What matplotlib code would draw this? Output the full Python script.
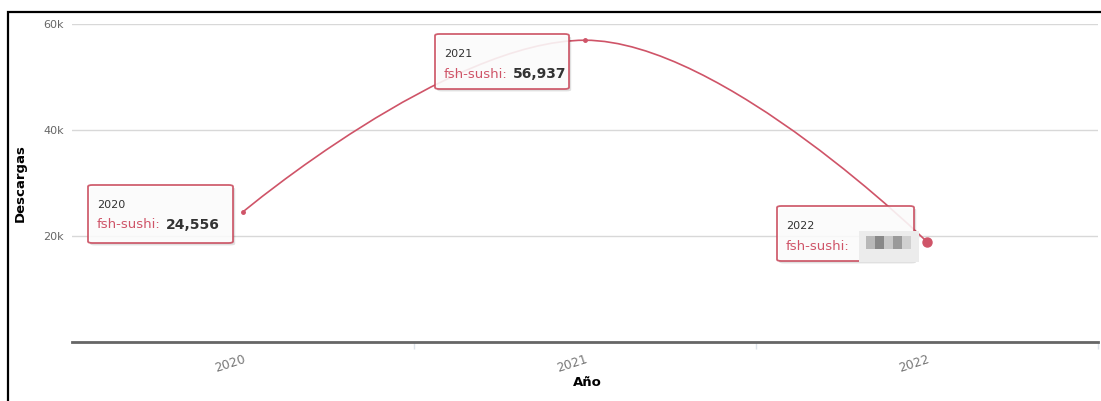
import matplotlib
matplotlib.use('Agg')
import matplotlib.pyplot as plt
from matplotlib.path import Path
from matplotlib.patches import PathPatch, FancyBboxPatch, Rectangle

# Datos
years = ['2020', '2021', '2022']
downloads = [24556, 56937, 18900]  # 2022 oculto en la imagen, valor estimado
series_name = 'fsh-sushi'
value_labels = ['24,556', '56,937', None]
y_ticks = [0, 20000, 40000, 60000]
y_tick_labels = ['', '20k', '40k', '60k']

W, H = 1101, 401
red = '#cf5468'
fig = plt.figure(figsize=(W / 100, H / 100), dpi=100)


def fx(px):
    return px / W


def fy(py):
    return 1 - py / H


ax = fig.add_axes([fx(72), fy(342), fx(1098) - fx(72), fy(24) - fy(342)])
ax.set_xlim(-0.5, 2.5)
ax.set_ylim(0, 60000)

# Curva suavizada (spline estilo Highcharts) a partir de los datos
xs = list(range(len(years)))
verts = [(xs[0], downloads[0]),
         (xs[0], downloads[0]), ((1.5 * xs[1] + xs[0]) / 2.5, downloads[1]), (xs[1], downloads[1]),
         ((1.5 * xs[1] + xs[2]) / 2.5, downloads[1]), (xs[2], downloads[2]), (xs[2], downloads[2])]
codes = [Path.MOVETO] + [Path.CURVE4] * 6
ax.add_patch(PathPatch(Path(verts, codes), fill=False, edgecolor=red, lw=1.2, zorder=3))
ax.plot(xs[:2], downloads[:2], 'o', color=red, ms=2.5, zorder=4)
ax.plot(xs[2], downloads[2], 'o', color=red, ms=6.5, zorder=4)

# Ejes
ax.set_yticks(y_ticks)
ax.set_yticklabels(y_tick_labels, color='#666666', fontsize=8)
ax.grid(axis='y', color='#d8d8d8', lw=1)
ax.set_axisbelow(True)
ax.tick_params(axis='y', length=0, pad=6)
ax.set_xticks(xs)
ax.set_xticklabels(years, rotation=18, ha='right', rotation_mode='anchor',
                   color='#777777', fontsize=9)
ax.tick_params(axis='x', length=0, pad=8)
ax.set_xticks([0.5, 1.5, 2.5], minor=True)
ax.tick_params(axis='x', which='minor', length=5, color='#dde3ea', width=1)
for s in ['top', 'right', 'left']:
    ax.spines[s].set_visible(False)
ax.spines['bottom'].set_color('#666666')
ax.spines['bottom'].set_linewidth(2)
ax.set_xlabel('Año', fontsize=9.5, fontweight='bold')
ax.set_ylabel('Descargas', fontsize=9.5, fontweight='bold')
ax.xaxis.set_label_coords(0.502, -0.108)
ax.yaxis.set_label_coords(-0.044, 0.5)

# Marco negro de la figura
fig.add_artist(Rectangle((fx(8), -0.1), 1.2, fy(12) + 0.1, transform=fig.transFigure,
                         fill=False, edgecolor='black', lw=1.6))

# Tooltips
boxes = [(88, 185, 233, 243), (435, 34, 569, 89), (777, 206, 914, 261)]
for (x0, y0, x1, y1), yr, val in zip(boxes, years, value_labels):
    fig.add_artist(FancyBboxPatch((fx(x0) + 0.002, fy(y1) - 0.006), fx(x1 - x0), fy(y0) - fy(y1),
                                  boxstyle='round,pad=0,rounding_size=0.004',
                                  transform=fig.transFigure, facecolor='#000000',
                                  edgecolor='none', alpha=0.12, zorder=5))
    fig.add_artist(FancyBboxPatch((fx(x0), fy(y1)), fx(x1 - x0), fy(y0) - fy(y1),
                                  boxstyle='round,pad=0,rounding_size=0.004',
                                  transform=fig.transFigure, facecolor='white',
                                  edgecolor='#c94a5c', lw=1.3, alpha=0.88, zorder=6))
    tx = x0 + 9
    fig.text(fx(tx), fy(y0 + 20), yr, fontsize=8, color='#333333', va='center', zorder=7)
    t = fig.text(fx(tx), fy(y0 + 40), series_name + ':', fontsize=9.5, color=red,
                 va='center', zorder=7)
    if val is not None:
        fig.canvas.draw()
        bb = t.get_window_extent()
        fig.text(bb.x1 / W + 0.005, fy(y0 + 40), val, fontsize=10, fontweight='bold',
                 color='#333333', va='center', zorder=7)
    else:
        # valor pixelado en la imagen original
        fig.add_artist(Rectangle((fx(859), fy(262)), fx(60), fy(231) - fy(262),
                                 transform=fig.transFigure, facecolor='#ececec',
                                 edgecolor='none', zorder=7))
        for i, c in enumerate(['#b8b8b8', '#888888', '#c8c8c8', '#9a9a9a', '#d0d0d0']):
            fig.add_artist(Rectangle((fx(866 + i * 9), fy(249)), fx(9), fy(236) - fy(249),
                                     transform=fig.transFigure, facecolor=c,
                                     edgecolor='none', zorder=8))

fig.savefig('out.png', dpi=100)
